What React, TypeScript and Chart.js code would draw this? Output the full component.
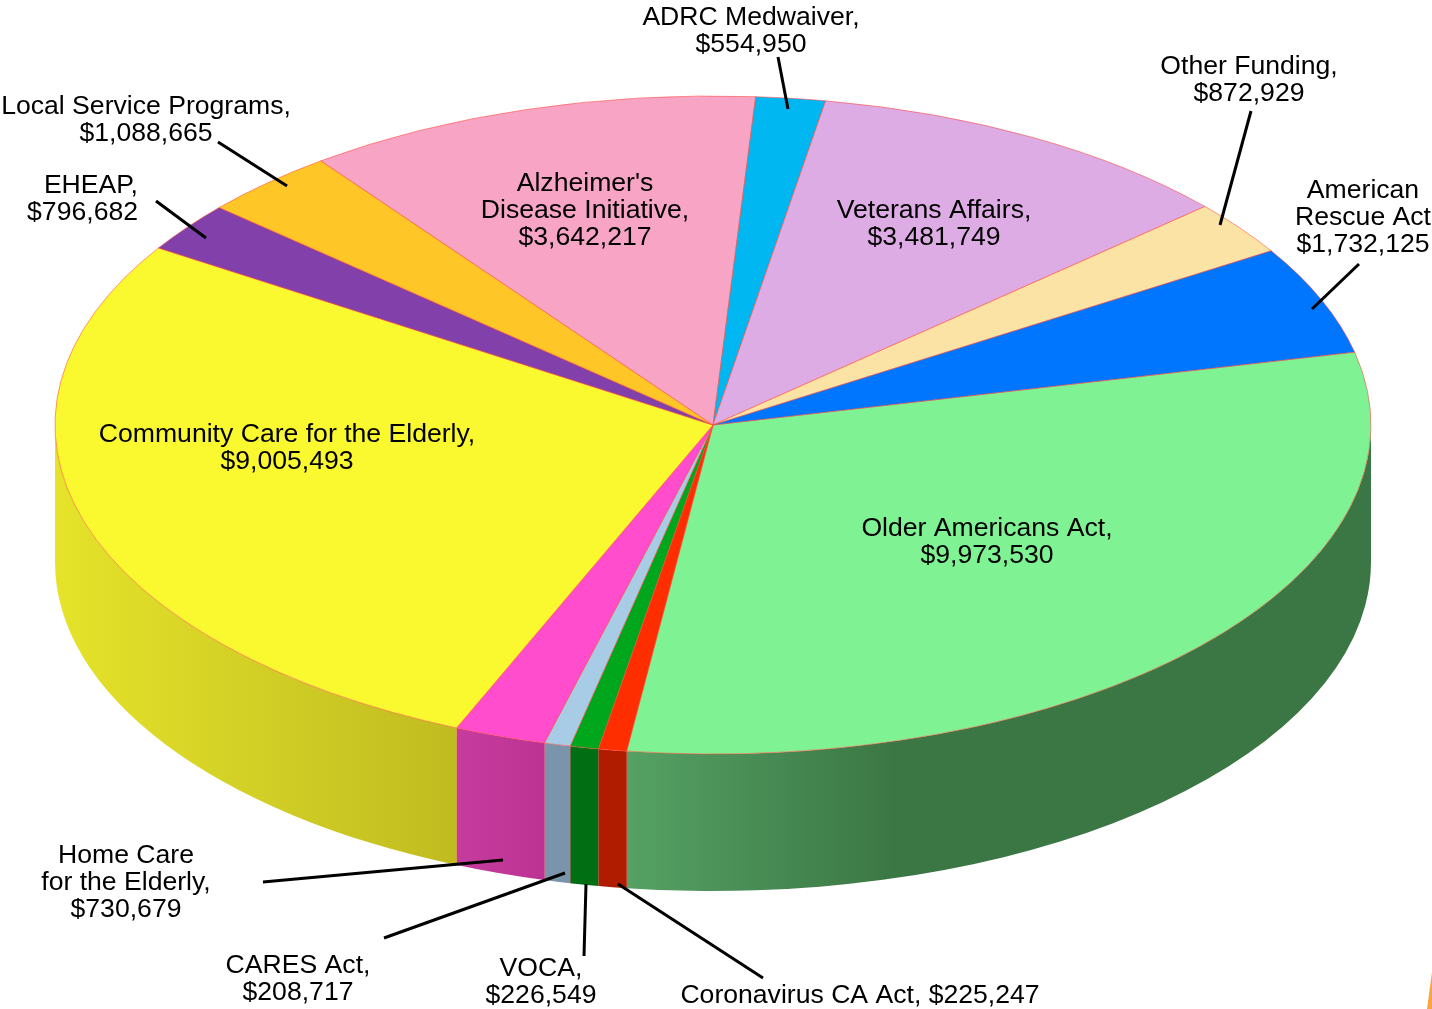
import React, { useEffect, useRef } from "react";
import Chart from "chart.js/auto";

// ---- data (clockwise from the right edge) ----
const categories: string[][] = [
  ["Older Americans Act,"],
  ["Coronavirus CA Act,"],
  ["VOCA,"],
  ["CARES Act,"],
  ["Home Care", "for the Elderly,"],
  ["Community Care for the Elderly,"],
  ["EHEAP,"],
  ["Local Service Programs,"],
  ["Alzheimer's", "Disease Initiative,"],
  ["ADRC Medwaiver,"],
  ["Veterans Affairs,"],
  ["Other Funding,"],
  ["American", "Rescue Act"],
];
const values: number[] = [
  9973530, 225247, 226549, 208717, 730679, 9005493, 796682, 1088665, 3642217,
  554950, 3481749, 872929, 1732125,
];

// ---- styles ----
const topColors = [
  "#7FF294", "#FF2E00", "#00A61C", "#A8CCE6", "#FF4DCE", "#FAF82E", "#8240AA",
  "#FFC627", "#F8A4C4", "#00B7F1", "#DEACE4", "#FBE3A6", "#0076FF",
];
const wallStops: [number, string][][] = [
  [[0, "#55A264"], [0.125, "#4C9259"], [0.36, "#3B7744"], [1, "#3B7744"]],
  [[0, "#B01C00"], [1, "#B01C00"]],
  [[0, "#006E12"], [1, "#006E12"]],
  [[0, "#7A94AC"], [1, "#7A94AC"]],
  [[0, "#C53C9E"], [1, "#BC3394"]],
  [[0, "#E6E32A"], [0.5, "#D2CF26"], [1, "#C0BC20"]],
];

// ---- layout ----
const WIDTH = 1432;
const HEIGHT = 1009;
const RADIUS = 658;
const SQUASH = 0.5;
const DEPTH = 137;
const ROTATION = 77.2;
const FONT = "26.6px 'Liberation Sans', Arial, sans-serif";
const LINE_HEIGHT = 26.8;
const EHEAP_INDEX = 6;
const SINGLE_LINE_INDEX = 1;

// label anchor x, first-line centre y, per category
const labelPos: [number, number][] = [
  [987, 529], [860, 996], [541, 969], [298, 966], [126, 856], [287, 435],
  [138, 186], [146, 107], [585, 184], [751, 18], [934, 211], [1249, 67], [1363, 191],
];
const leaders: [number, number, number, number][] = [
  [778, 57, 788, 109],
  [1251, 111, 1220, 225],
  [1359, 264, 1312, 309],
  [263, 882, 503, 860],
  [384, 938, 565, 873],
  [586, 884, 584, 956],
  [618, 884, 763, 978],
  [218, 142, 287, 186],
  [156, 201, 206, 238],
];

const money = (v: number) => "$" + v.toLocaleString("en-US");

const pie3d = {
  id: "pie3d",
  beforeDatasetsDraw(chart: any) {
    const ctx: CanvasRenderingContext2D = chart.ctx;
    const arcs = chart.getDatasetMeta(0).data;
    arcs.forEach((arc: any, i: number) => {
      const a0 = Math.max(arc.startAngle, 0);
      const a1 = Math.min(arc.endAngle, Math.PI);
      if (a1 <= a0) return;
      const { x, y, outerRadius: r } = arc;
      const ry = r * SQUASH;
      const xa = x + r * Math.cos(a0);
      const xb = x + r * Math.cos(a1);
      const stops = wallStops[i] ?? [[0, topColors[i]], [1, topColors[i]]];
      const g = ctx.createLinearGradient(Math.min(xa, xb), 0, Math.max(xa, xb), 0);
      stops.forEach(([o, c]) => g.addColorStop(o, c));
      ctx.save();
      ctx.beginPath();
      ctx.ellipse(x, y, r, ry, 0, a0, a1);
      ctx.ellipse(x, y + DEPTH, r, ry, 0, a1, a0, true);
      ctx.closePath();
      ctx.fillStyle = g;
      ctx.fill();
      // thin red seam at the slice's left edge
      if (a1 < Math.PI) {
        ctx.beginPath();
        ctx.moveTo(xb, y + ry * Math.sin(a1));
        ctx.lineTo(xb, y + ry * Math.sin(a1) + DEPTH);
        ctx.strokeStyle = "rgba(255,60,70,0.55)";
        ctx.lineWidth = 1;
        ctx.stroke();
      }
      ctx.restore();
    });
    const first = arcs[0];
    ctx.save();
    ctx.translate(first.x, first.y);
    ctx.scale(1, SQUASH);
    ctx.translate(-first.x, -first.y);
  },
  afterDatasetsDraw(chart: any) {
    const ctx: CanvasRenderingContext2D = chart.ctx;
    ctx.restore();
    const arcs = chart.getDatasetMeta(0).data;

    ctx.save();
    ctx.strokeStyle = "#000";
    ctx.lineWidth = 3;
    leaders.forEach(([x1, y1, x2, y2]) => {
      ctx.beginPath();
      ctx.moveTo(x1, y1);
      ctx.lineTo(x2, y2);
      ctx.stroke();
    });

    ctx.fillStyle = "#000";
    ctx.font = FONT;
    ctx.textBaseline = "middle";
    arcs.forEach((_: any, i: number) => {
      const [cx, cy] = labelPos[i];
      const name = categories[i];
      const lines =
        i === SINGLE_LINE_INDEX
          ? [name.join(" ") + " " + money(values[i])]
          : [...name, money(values[i])];
      ctx.textAlign = i === EHEAP_INDEX ? "right" : "center";
      lines.forEach((t, k) => ctx.fillText(t, cx, cy + k * LINE_HEIGHT));
    });

    // corner fragment of the page decoration
    ctx.beginPath();
    ctx.moveTo(1432, 972);
    ctx.lineTo(1427, 1009);
    ctx.lineTo(1432, 1009);
    ctx.closePath();
    ctx.fillStyle = "#F9A640";
    ctx.fill();
    ctx.restore();
  },
};

export default function App() {
  const ref = useRef<HTMLCanvasElement>(null);
  useEffect(() => {
    const chart = new Chart(ref.current!, {
      type: "pie",
      data: {
        labels: categories,
        datasets: [
          {
            data: values,
            backgroundColor: topColors,
            borderColor: "rgba(255,75,60,0.75)",
            borderWidth: 1,
            clip: false,
          } as any,
        ],
      },
      options: {
        responsive: false,
        animation: false,
        rotation: ROTATION,
        radius: RADIUS,
        layout: { padding: { right: 6, bottom: 159 } },
        plugins: { legend: { display: false }, tooltip: { enabled: false } },
      } as any,
      plugins: [pie3d],
    });
    return () => chart.destroy();
  }, []);
  return (
    <canvas
      ref={ref}
      width={WIDTH}
      height={HEIGHT}
      style={{ position: "absolute", left: 0, top: 0, display: "block", background: "#fff" }}
    />
  );
}
